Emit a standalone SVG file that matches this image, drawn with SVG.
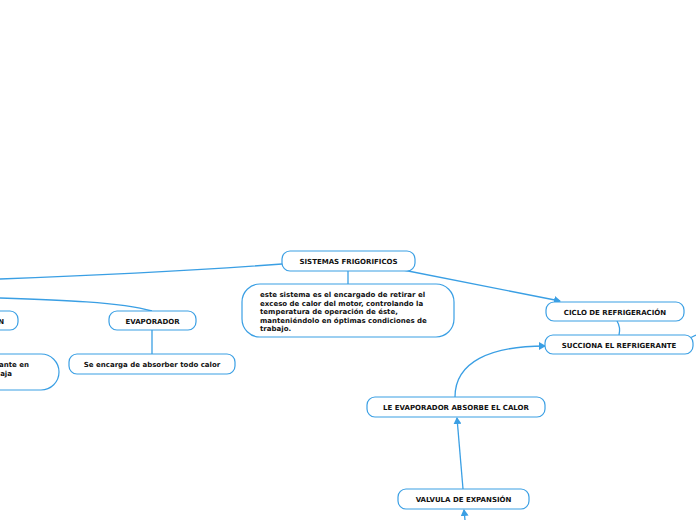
<svg xmlns="http://www.w3.org/2000/svg" width="696" height="520" viewBox="0 0 696 520">
<defs>
<marker id="arr" markerWidth="8" markerHeight="8" refX="6" refY="4" orient="auto" markerUnits="userSpaceOnUse">
<path d="M0,0 L7,4 L0,8 Z" fill="#3a9fe4"/>
</marker>
<style>
.n{fill:#fff;stroke:#3a9fe4;stroke-width:1.2}
.c{fill:none;stroke:#3a9fe4;stroke-width:1.3}
.t{font-family:"DejaVu Sans",Verdana,sans-serif;font-weight:bold;font-size:7px;fill:#111}
.m{text-anchor:middle}
</style>
</defs>
<rect width="696" height="520" fill="#fff"/>
<g id="connectors">
<path class="c" d="M282,264 C200,270 80,276 0,279"/>
<path class="c" d="M348,271 L348,284"/>
<path class="c" d="M403,270 L560,301" marker-end="url(#arr)"/>
<path class="c" d="M617,321 C620,326 620,331 619,335"/>
<path class="c" d="M690,338 L696,335"/>
<path class="c" d="M455,397 C455,362 490,346 545,346" marker-end="url(#arr)"/>
<path class="c" d="M463,489 L457,418" marker-end="url(#arr)"/>
<path class="c" d="M465,520 L464,510" marker-end="url(#arr)"/>
<path class="c" d="M0,298 C60,300 120,302 152,311"/>
<path class="c" d="M152,330 L152,354"/>
</g>
<g id="sistemas">
<rect class="n" x="282" y="251" width="133" height="20" rx="8"/>
<text class="t m" x="348.5" y="263.5">SISTEMAS FRIGORIFICOS</text>
</g>
<g id="descripcion">
<rect class="n" x="242" y="284" width="212" height="53" rx="18"/>
<text class="t" x="260" y="297">este sistema es el encargado de retirar el</text>
<text class="t" x="260" y="305.5">exceso de calor del motor, controlando la</text>
<text class="t" x="260" y="314">temperatura de operación de éste,</text>
<text class="t" x="260" y="322.5">manteniéndolo en óptimas condiciones de</text>
<text class="t" x="260" y="331">trabajo.</text>
</g>
<g id="ciclo">
<rect class="n" x="546" y="302" width="138" height="19" rx="8"/>
<text class="t m" x="615" y="314.5">CICLO DE REFRIGERACIÓN</text>
</g>
<g id="succiona">
<rect class="n" x="545" y="335" width="148" height="19" rx="8"/>
<text class="t m" x="619" y="347.5">SUCCIONA EL REFRIGERANTE</text>
</g>
<g id="evaporador-absorbe">
<rect class="n" x="367" y="397" width="178" height="20" rx="8"/>
<text class="t m" x="456" y="409.5">LE EVAPORADOR ABSORBE EL CALOR</text>
</g>
<g id="valvula">
<rect class="n" x="398" y="489" width="131" height="20" rx="8"/>
<text class="t m" x="463.5" y="501.5">VALVULA DE EXPANSIÓN</text>
</g>
<g id="n-node">
<rect class="n" x="-40" y="311" width="58" height="19" rx="8"/>
<text class="t" x="4" y="323.5" text-anchor="end">N</text>
</g>
<g id="evaporador">
<rect class="n" x="109" y="311" width="87" height="19" rx="8"/>
<text class="t m" x="152.5" y="323.5">EVAPORADOR</text>
</g>
<g id="absorber">
<rect class="n" x="69" y="354" width="166" height="20" rx="8"/>
<text class="t m" x="152" y="366.5">Se encarga de absorber todo calor</text>
</g>
<g id="left-desc">
<rect class="n" x="-60" y="354" width="119" height="36" rx="18"/>
<text class="t" x="29" y="367" text-anchor="end">ante en</text>
<text class="t" x="12" y="376" text-anchor="end">aja</text>
</g>
</svg>
